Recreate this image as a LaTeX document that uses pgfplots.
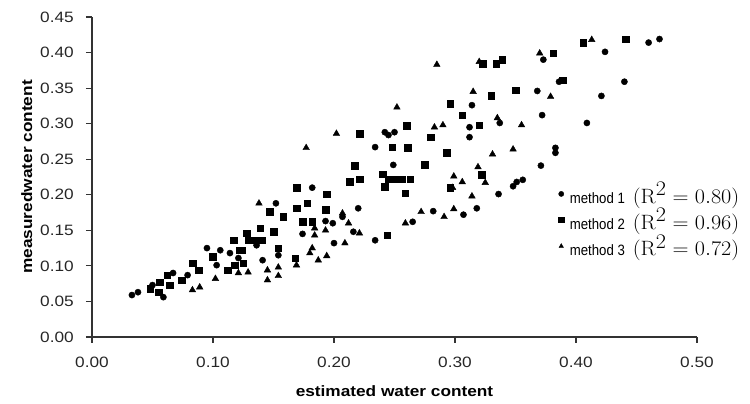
\documentclass[border=0pt]{standalone}
\usepackage[no-math]{fontspec}
\setmainfont{Liberation Sans}[FakeStretch=1.15]
\newfontfamily\legfont{Liberation Sans}[FakeStretch=0.88]
\usepackage{pgfplots}
\pgfplotsset{compat=1.18}
\newcommand{\rsq}[1]{\hspace{8pt}{\fontsize{20}{22}\selectfont\scalebox{1.07}[1]{$(\mathrm{R}^{\textstyle 2} = #1)$}}}
\begin{document}
\fontsize{15}{18}\selectfont
\begin{tikzpicture}
\useasboundingbox (-92pt,-67pt) rectangle (658pt,337pt);
\begin{axis}[
  at={(0pt,0pt)}, anchor=south west,
  scale only axis, width=605pt, height=320pt,
  xmin=0, xmax=0.5, ymin=0, ymax=0.45,
  axis x line*=bottom, axis y line*=left,
  axis line style={line width=1.1pt, black!80},
  tick style={line width=1.1pt, black!80},
  tick align=outside, major tick length=6pt,
  xtick={0,0.1,0.2,0.3,0.4,0.5},
  ytick={0,0.05,0.1,0.15,0.2,0.25,0.3,0.35,0.4,0.45},
  minor tick num=0,
  ticklabel style={font=\fontsize{15}{18}\selectfont, text=black!85},
  /pgf/number format/.cd, fixed, fixed zerofill, precision=2, assume math mode=true,
  /pgfplots/.cd,
  xticklabel style={yshift=-9pt},
  yticklabel style={xshift=-7pt},
  xlabel={\bfseries estimated water content},
  ylabel={\bfseries measuredwater content},
  xlabel style={at={(axis description cs:0.5,-0.169)}, anchor=center, font=\fontsize{15}{18}\selectfont},
  ylabel style={at={(axis description cs:-0.108,0.5)}, anchor=center, font=\fontsize{15}{18}\selectfont},
  clip=false,
  legend style={draw=none, fill=none, at={(axis description cs:0.771,0.487)}, anchor=north west,
    font=\legfont\fontsize{15}{17}\selectfont, row sep=1pt, inner sep=0pt,
    nodes={inner sep=1pt}, column sep=5pt},
  legend cell align=left,
  legend image post style={mark size=2.6pt},
]
\addplot[only marks, mark=*, mark size=3.1pt, black]
coordinates {
(0.033,0.059) (0.038,0.063) (0.050,0.073) (0.067,0.090) (0.079,0.087) (0.095,0.125) (0.103,0.101) (0.106,0.122) (0.121,0.111) (0.152,0.188) (0.174,0.145) (0.182,0.210) (0.193,0.163) (0.199,0.160) (0.207,0.169) (0.220,0.181) (0.216,0.148) (0.234,0.136) (0.200,0.132) (0.249,0.242) (0.242,0.288) (0.245,0.284) (0.250,0.288) (0.234,0.267) (0.265,0.162) (0.282,0.177) (0.307,0.172) (0.318,0.181) (0.314,0.326) (0.337,0.301) (0.312,0.295) (0.312,0.281) (0.372,0.312) (0.368,0.346) (0.383,0.266) (0.383,0.259) (0.371,0.241) (0.336,0.201) (0.348,0.212) (0.351,0.218) (0.356,0.221) (0.373,0.390) (0.424,0.401) (0.460,0.414) (0.469,0.419) (0.440,0.359) (0.421,0.339) (0.409,0.301) (0.059,0.056) (0.114,0.118) (0.136,0.129) (0.141,0.108) (0.154,0.115) (0.386,0.359)
};
\addlegendentry{method 1\rsq{0.80}}
\addplot[only marks, mark=square*, mark size=3.3pt, black]
coordinates {
(0.048,0.068) (0.055,0.063) (0.056,0.077) (0.062,0.087) (0.064,0.073) (0.074,0.080) (0.083,0.104) (0.088,0.094) (0.100,0.113) (0.112,0.094) (0.117,0.136) (0.122,0.122) (0.128,0.146) (0.118,0.101) (0.125,0.104) (0.169,0.210) (0.194,0.201) (0.147,0.176) (0.158,0.169) (0.169,0.181) (0.178,0.188) (0.193,0.179) (0.174,0.162) (0.182,0.162) (0.139,0.153) (0.150,0.148) (0.129,0.136) (0.135,0.136) (0.140,0.136) (0.124,0.122) (0.154,0.125) (0.168,0.111) (0.217,0.241) (0.213,0.218) (0.221,0.222) (0.240,0.229) (0.245,0.222) (0.252,0.222) (0.256,0.222) (0.263,0.222) (0.242,0.211) (0.259,0.202) (0.296,0.210) (0.244,0.143) (0.275,0.242) (0.221,0.286) (0.260,0.297) (0.248,0.267) (0.261,0.266) (0.280,0.281) (0.323,0.384) (0.334,0.384) (0.339,0.390) (0.381,0.399) (0.330,0.339) (0.350,0.347) (0.296,0.328) (0.306,0.312) (0.320,0.298) (0.293,0.259) (0.322,0.228) (0.406,0.414) (0.441,0.419) (0.389,0.361)
};
\addlegendentry{method 2\rsq{0.96}}
\addplot[only marks, mark=triangle*, mark size=3.8pt, black]
coordinates {
(0.083,0.066) (0.089,0.070) (0.102,0.082) (0.129,0.091) (0.138,0.188) (0.184,0.153) (0.193,0.150) (0.207,0.174) (0.184,0.143) (0.182,0.125) (0.169,0.101) (0.187,0.108) (0.194,0.114) (0.209,0.132) (0.145,0.094) (0.154,0.098) (0.154,0.086) (0.145,0.080) (0.212,0.160) (0.221,0.146) (0.259,0.160) (0.272,0.176) (0.291,0.169) (0.299,0.180) (0.285,0.383) (0.252,0.323) (0.202,0.286) (0.177,0.266) (0.283,0.295) (0.320,0.387) (0.370,0.399) (0.315,0.345) (0.379,0.338) (0.335,0.308) (0.290,0.298) (0.355,0.298) (0.331,0.257) (0.348,0.264) (0.319,0.239) (0.299,0.226) (0.306,0.218) (0.325,0.217) (0.298,0.210) (0.314,0.198) (0.413,0.418) (0.180,0.118) (0.121,0.090)
};
\addlegendentry{method 3\rsq{0.72}}
\end{axis}
\end{tikzpicture}
\end{document}
